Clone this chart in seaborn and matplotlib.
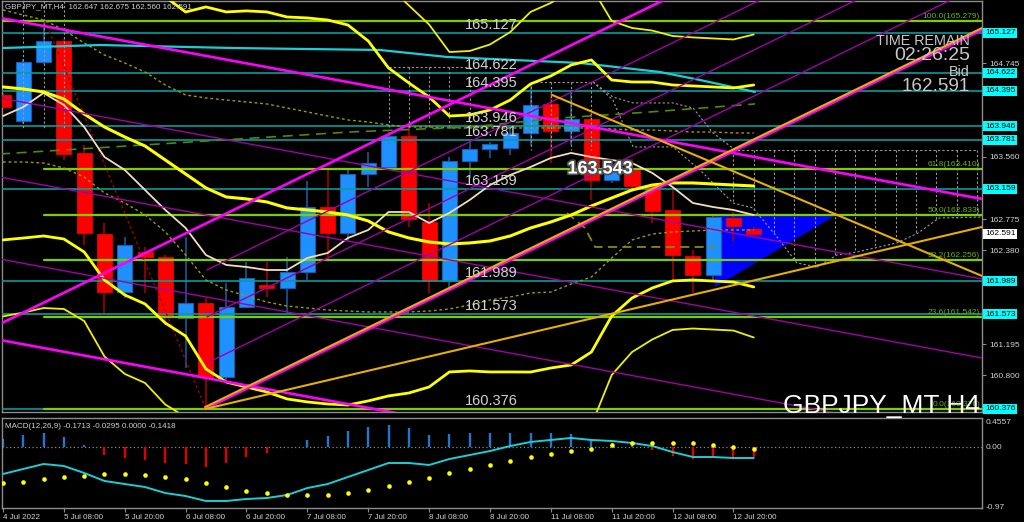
import numpy as np
import matplotlib
matplotlib.use("Agg")
import matplotlib.pyplot as plt
import matplotlib.patheffects as pe
from matplotlib.transforms import blended_transform_factory
import seaborn as sns

# ============================================================
# DATA  (GBPJPY H4, bars 4 Jul 20:00 -> 13 Jul 00:00)
# ============================================================
symbol_header = "GBPJPY_MT,H4  162.647 162.675 162.560 162.591"
macd_header = "MACD(12,26,9) -0.1713 -0.0295 0.0000 -0.1418"

opens = [164.344, 164.015, 164.761, 165.026, 163.610, 162.587, 161.854, 162.360, 162.300, 161.526,
         161.715, 160.780, 161.665, 161.940, 161.905, 162.107, 162.928, 162.600, 163.345, 163.434,
         163.826, 162.739, 161.993, 163.510, 163.660, 163.674, 163.864, 164.230, 163.889, 164.040,
         163.270, 163.396, 163.206, 162.890, 162.310, 162.070, 162.790, 162.647]
highs = [164.370, 164.800, 165.279, 165.050, 163.710, 162.730, 162.550, 162.420, 162.320, 162.550,
         161.780, 161.970, 162.230, 162.230, 162.300, 163.257, 163.420, 163.400, 163.620, 163.870,
         163.930, 162.980, 163.560, 163.750, 163.750, 163.950, 164.470, 164.380, 164.410, 164.110,
         163.450, 163.540, 163.210, 163.140, 162.380, 162.840, 162.870, 162.675]
lows = [164.170, 163.980, 164.740, 163.520, 162.450, 161.590, 161.780, 161.840, 161.440, 160.890,
        160.376, 160.740, 161.660, 161.790, 161.590, 162.006, 162.260, 162.500, 163.180, 163.400,
        162.676, 161.840, 161.920, 163.290, 163.550, 163.580, 163.700, 163.485, 163.710, 163.020,
        163.230, 163.120, 162.730, 162.006, 161.840, 162.000, 162.500, 162.560]
closes = [164.192, 164.761, 165.026, 163.598, 162.600, 161.854, 162.448, 162.300, 161.540, 161.715,
          160.780, 161.665, 162.030, 161.905, 162.107, 162.928, 162.600, 163.345, 163.484, 163.826,
          162.777, 161.993, 163.510, 163.660, 163.724, 163.864, 164.217, 163.889, 164.040, 163.270,
          163.434, 163.194, 162.878, 162.320, 162.070, 162.800, 162.688, 162.591]

# bollinger middle line and distance to the inner bands (outer bands sit 1.5x further)
bb_mid = [164.445, 164.419, 164.382, 164.293, 164.104, 163.939, 163.813, 163.699, 163.522, 163.345,
          163.169, 163.055, 163.030, 162.992, 162.916, 162.891, 162.865, 162.827, 162.752, 162.613,
          162.537, 162.486, 162.461, 162.474, 162.499, 162.562, 162.663, 162.739, 162.827, 162.941,
          163.042, 163.143, 163.206, 163.232, 163.232, 163.219, 163.206, 163.194]
bb_dev = [1.933, 1.883, 1.820, 1.769, 1.744, 1.933, 1.996, 1.996, 2.060, 2.047,
          2.287, 2.338, 2.376, 2.401, 2.413, 2.426, 2.426, 2.401, 2.274, 2.072,
          1.959, 1.832, 1.617, 1.617, 1.655, 1.718, 1.820, 1.845, 1.895, 1.845,
          1.491, 1.365, 1.301, 1.238, 1.226, 1.226, 1.226, 1.276]
outer_factor = 1.5

fast_ma = [164.078, 164.192, 164.369, 164.217, 163.939, 163.560, 163.396, 163.143, 162.891, 162.663,
           162.322, 162.196, 162.170, 162.132, 162.132, 162.284, 162.347, 162.537, 162.638, 162.865,
           162.865, 162.726, 162.853, 163.017, 163.206, 163.333, 163.434, 163.548, 163.611, 163.560,
           163.522, 163.484, 163.358, 163.181, 162.979, 162.928, 162.891, 162.827]
dotted_ma_a = [165.418, 165.354, 165.291, 165.165, 165.001, 164.849, 164.748, 164.634, 164.470, 164.344,
               164.306, 164.280, 164.255, 164.230, 164.179, 164.129, 164.078, 164.028, 164.002, 163.965,
               163.939, 163.939, 163.927, 163.927, 163.927, 163.927, 163.927, 163.927, 163.927, 163.927,
               163.914, 163.901, 163.901, 163.889, 163.876, 163.876, 163.864, 163.864]
dotted_ma_b = [163.497, 163.497, 163.484, 163.421, 163.307, 163.105, 162.979, 162.827, 162.613, 162.322,
               162.006, 161.880, 161.804, 161.728, 161.677, 161.652, 161.627, 161.614, 161.602, 161.602,
               161.602, 161.614, 161.640, 161.690, 161.753, 161.791, 161.842, 161.854, 161.955, 162.044,
               162.284, 162.511, 162.587, 162.613, 162.625, 162.638, 162.638, 162.638]

# slow cyan MA and green dashed line (sampled points: bar, price)
slow_ma_bars = [0, 4.78, 11.34, 18.58, 21.88, 25.14, 28.44, 32.38, 34.35, 37.06]
slow_ma_vals = [164.937, 164.975, 164.937, 164.912, 164.824, 164.786, 164.748, 164.634, 164.533, 164.382]
dash_bars = [-0.15, 8.48, 17.10, 23.02, 27.45, 31.89, 37.06]
dash_vals = [163.598, 163.737, 163.876, 163.939, 164.053, 164.129, 164.230]
kijun_bars = [27.8, 28.68, 29.18, 35.09]
kijun_vals = [162.853, 162.663, 162.423, 162.423]

# horizontal levels, fibonacci, price axis
levels = [165.127, 164.622, 164.395, 163.946, 163.781, 163.159, 161.989, 161.573, 160.376]
fib_pcts = ["100.0", "61.8", "50.0", "38.2", "23.6", "0.0"]
fib_prices = [165.279, 163.410, 162.833, 162.256, 161.542, 160.376]
fib_anchor_bar = 2
axis_prices = [164.745, 163.560, 162.775, 162.380, 161.195, 160.800]
bid_price = 162.591
marked_price = "163.543"

# trend lines: (bar0, price0, bar1, price1)
magenta_thick = [(-0.15, 165.317, 48.25, 163.030), (-0.15, 161.248, 48.25, 158.961),
                 (-0.15, 161.450, 48.25, 167.505), (9.96, 160.376, 48.25, 165.165)]
purple_thin = [(-0.15, 164.306, 48.25, 162.019), (-0.15, 163.307, 48.25, 161.020),
               (-0.15, 162.271, 48.25, 159.984), (10.05, 162.132, 48.25, 166.911),
               (10.05, 161.539, 48.25, 166.318), (10.05, 160.957, 48.25, 165.736)]
gold_lines = [(9.96, 160.400, 48.25, 165.190), (9.96, 160.376, 48.25, 162.676),
              (27.06, 164.344, 48.25, 162.057)]
zigzag = (2.07, 165.279, 10.0, 160.376)

tri_bars = [35.09, 41.10, 35.09]
tri_prices = [162.833, 162.833, 161.917]

# grey dotted projection paths
proj_a_bars = [29.08, 30.06, 31.05, 33.02, 34.01, 34.99, 36.08]
proj_a_vals = [164.508, 164.318, 164.243, 164.243, 164.179, 163.864, 163.649]
proj_b_bars = [29.08, 30.06, 31.05, 33.02, 34.35, 35.98, 36.96, 38.15, 39.13, 40.12,
               41.10, 42.09, 44.06, 45.10, 46.13, 48.25]
proj_b_vals = [164.508, 164.280, 163.687, 163.687, 163.396, 162.979, 162.916, 162.549, 162.221, 162.170,
               162.322, 162.360, 162.474, 162.600, 162.789, 162.802]
# dotted boxes: (first bar, last bar, top price, bottom price)
dot_boxes = [(1, 3, 165.53, 163.927), (19, 23, 164.697, 163.939),
             (26, 29, 164.508, 163.649), (36, 48, 163.649, None)]

# MACD panel
macd_hist = [0.135, 0.199, 0.231, 0.167, 0.038, -0.122, -0.170, -0.202, -0.250, -0.266,
             -0.314, -0.250, -0.154, -0.090, 0.010, 0.119, 0.183, 0.263, 0.327, 0.359,
             0.311, 0.199, 0.215, 0.231, 0.231, 0.231, 0.231, 0.231, 0.215, 0.135,
             0.071, 0.038, -0.042, -0.138, -0.186, -0.170, -0.170, -0.154]
macd_line = [-0.426, -0.346, -0.266, -0.298, -0.410, -0.538, -0.587, -0.635, -0.731, -0.779,
             -0.859, -0.859, -0.827, -0.811, -0.763, -0.651, -0.587, -0.474, -0.362, -0.250,
             -0.250, -0.282, -0.186, -0.122, -0.058, 0.022, 0.087, 0.119, 0.151, 0.119,
             0.103, 0.071, 0.022, -0.074, -0.154, -0.154, -0.170, -0.170]
macd_dots = [-0.571, -0.554, -0.506, -0.474, -0.458, -0.426, -0.426, -0.442, -0.474, -0.506,
             -0.571, -0.635, -0.699, -0.731, -0.763, -0.763, -0.763, -0.731, -0.683, -0.619,
             -0.554, -0.490, -0.410, -0.346, -0.282, -0.218, -0.154, -0.106, -0.058, -0.026,
             0.038, 0.071, 0.071, 0.071, 0.071, 0.038, 0.006, -0.026]
macd_scale = [0.4557, 0.0, -0.97]

xtick_bars = [0, 3, 6, 9, 12, 15, 18, 21, 24, 27, 30, 33, 36]
xtick_labels = ["4 Jul 2022", "5 Jul 08:00", "5 Jul 20:00", "6 Jul 08:00", "6 Jul 20:00",
                "7 Jul 08:00", "7 Jul 20:00", "8 Jul 08:00", "8 Jul 20:00", "11 Jul 08:00",
                "11 Jul 20:00", "12 Jul 08:00", "12 Jul 20:00"]

# ============================================================
# STYLE
# ============================================================
BG = "black"
FRAME = "#8c8c8c"
TXT = "#d2d2d2"
TEAL = "#0b9a9a"
CYAN_BOX = "#00ffff"
FIB = "#7fcc00"
sns.set_style("dark", {"axes.facecolor": BG, "figure.facecolor": BG,
                       "axes.edgecolor": FRAME, "grid.color": BG})
plt.rcParams["font.family"] = ["Liberation Sans", "DejaVu Sans"]

W, H = 1024, 522
fig = plt.figure(figsize=(W / 100, H / 100), dpi=100, facecolor=BG)


def fpos(x, y):
    return x / W, 1 - y / H


ax = fig.add_axes([2 / W, 1 - 412 / H, 980 / W, 411 / H])
ax2 = fig.add_axes([2 / W, 1 - 508 / H, 980 / W, 90 / H], sharex=ax)
XMIN, XMAX = -0.05, 48.25
ax.set_xlim(XMIN, XMAX)
ax.set_ylim(160.338, 165.531)
ax2.set_ylim(-0.971, 0.471)

bars = np.arange(len(opens))
o, h, l, c = (np.array(v) for v in (opens, highs, lows, closes))
up = c > o

# blue triangle object sits behind the candles
ax.fill(tri_bars, tri_prices, color="#0000ff", zorder=1, lw=0)

# candles
ax.vlines(bars[up], l[up], h[up], color="#1d5fa8", lw=1.1, zorder=2)
ax.vlines(bars[~up], l[~up], h[~up], color="#b00000", lw=1.1, zorder=2)
body_lo = np.minimum(o, c)
body_h = np.maximum(np.abs(c - o), 0.03)
ax.bar(bars[up], body_h[up], bottom=body_lo[up], width=0.74, color="#1e90ff",
       edgecolor="#1560b0", lw=0.8, zorder=3)
ax.bar(bars[~up], body_h[~up], bottom=body_lo[~up], width=0.74, color="#ff0000",
       edgecolor="#ff0000", lw=0.5, zorder=3)

# horizontal levels
lvl_tr = blended_transform_factory(ax.transAxes, ax.transData)
for lvl in levels:
    ax.axhline(lvl, color=TEAL, lw=1.2, zorder=4)
    ax.text(0.4724, lvl + 0.012, f"{lvl:.3f}", transform=lvl_tr, color=TXT,
            fontsize=10.5, va="bottom", ha="left", zorder=9)

# fibonacci
for pct, price in zip(fib_pcts, fib_prices):
    start = XMIN if pct == "100.0" else fib_anchor_bar
    ax.plot([start, XMAX], [price, price], color=FIB, lw=1.6, zorder=4)
    ax.text(0.998, price + 0.01, f"{pct}({price:.3f})", transform=lvl_tr, color="#6cb000",
            fontsize=6, va="bottom", ha="right", zorder=9)

# dotted grey boxes and projections
for b0, b1, top, bot in dot_boxes:
    ax.plot([b0, b1], [top, top], color="#9a9a9a", lw=0.8, ls=(0, (2, 2)), zorder=4)
    for b in range(b0, b1 + 1):
        end = bot if bot is not None else np.interp(b, proj_b_bars, proj_b_vals)
        ax.plot([b, b], [top, end], color="#9a9a9a", lw=0.8, ls=(0, (2, 2)), zorder=4)
ax.plot(proj_a_bars, proj_a_vals, color="#9a9a9a", lw=0.8, ls=(0, (2, 2)), zorder=4)
ax.plot(proj_b_bars, proj_b_vals, color="#9a9a9a", lw=0.8, ls=(0, (2, 2)), zorder=4)
ax.plot(zigzag[0::2], zigzag[1::2], color="#a00000", lw=1.0, ls=(0, (2, 2)), zorder=4)

# moving averages / bands
mid = np.array(bb_mid)
dev = np.array(bb_dev)
sns.lineplot(x=bars, y=dotted_ma_a, ax=ax, color="#9c9c00", lw=1.0, ls=(0, (2, 2)), zorder=5)
sns.lineplot(x=bars, y=dotted_ma_b, ax=ax, color="#9c9c00", lw=1.0, ls=(0, (2, 2)), zorder=5)
sns.lineplot(x=dash_bars, y=dash_vals, ax=ax, color="#4f8a00", lw=1.2, ls=(0, (6, 4)), zorder=5)
sns.lineplot(x=kijun_bars, y=kijun_vals, ax=ax, color="#8a8a00", lw=1.3, ls=(0, (5, 3)), zorder=5)
sns.lineplot(x=slow_ma_bars, y=slow_ma_vals, ax=ax, color="#19cfd6", lw=1.6, zorder=5)
sns.lineplot(x=bars, y=fast_ma, ax=ax, color="#f3dcc0", lw=1.3, zorder=6)
sns.lineplot(x=bars, y=mid, ax=ax, color="#ffff00", lw=2.2, zorder=6)
sns.lineplot(x=bars, y=mid + dev, ax=ax, color="#ffff00", lw=2.0, zorder=6)
sns.lineplot(x=bars, y=mid - dev, ax=ax, color="#ffff00", lw=2.0, zorder=6)
sns.lineplot(x=bars, y=mid + outer_factor * dev, ax=ax, color="#f0f000", lw=1.3, zorder=6)
sns.lineplot(x=bars, y=mid - outer_factor * dev, ax=ax, color="#f0f000", lw=1.3, zorder=6)

# trend lines
for b0, p0, b1, p1 in purple_thin:
    ax.plot([b0, b1], [p0, p1], color="#a000a8", lw=1.0, zorder=6)
for b0, p0, b1, p1 in magenta_thick:
    ax.plot([b0, b1], [p0, p1], color="#ff00ff", lw=1.9, zorder=7)
for b0, p0, b1, p1 in gold_lines:
    ax.plot([b0, b1], [p0, p1], color="#e6b000", lw=1.5, zorder=7)

# price axis on the right
ax.yaxis.tick_right()
ax.set_yticks(axis_prices)
ax.set_yticklabels([f"{p:.3f}" for p in axis_prices])
ax.tick_params(axis="y", colors=TXT, labelsize=6, length=3, pad=2, color=FRAME)
ax.tick_params(axis="x", bottom=False, labelbottom=False)
box_tr = blended_transform_factory(ax.transAxes, ax.transData)
for lvl in levels:
    ax.text(1.003, lvl, f"{lvl:.3f}", transform=box_tr, fontsize=6, color="black",
            va="center", ha="left", clip_on=False, zorder=10,
            bbox=dict(boxstyle="square,pad=0.18", fc=CYAN_BOX, ec="none"))
ax.text(1.003, bid_price, f"{bid_price:.3f}", transform=box_tr, fontsize=6, color="black",
        va="center", ha="left", clip_on=False, zorder=10,
        bbox=dict(boxstyle="square,pad=0.18", fc="white", ec="none"))
for side in ("top", "left", "right", "bottom"):
    ax.spines[side].set_color(FRAME)
    ax.spines[side].set_linewidth(1.0)

# ---- MACD panel ----
hist = np.array(macd_hist)
pos = hist >= 0
ax2.vlines(bars[pos], 0, hist[pos], color="#1e78d2", lw=1.7, zorder=2)
ax2.vlines(bars[~pos], 0, hist[~pos], color="#e00000", lw=1.7, zorder=2)
ax2.axhline(0, color="#8a8a8a", lw=0.9, ls=(0, (1, 2)), zorder=1)
sns.lineplot(x=bars, y=macd_line, ax=ax2, color="#19cfd6", lw=1.4, zorder=3)
sns.scatterplot(x=bars, y=macd_dots, ax=ax2, color="#ffff00", s=11, linewidth=0, zorder=4)
ax2.set_yticks([])
ax2.set_ylabel("")
pan_tr = blended_transform_factory(ax2.transAxes, ax2.transData)
ax2.text(1.004, macd_scale[0], f"{macd_scale[0]:.4f}", transform=pan_tr, color=TXT,
         fontsize=6, va="top", ha="left", clip_on=False)
ax2.text(1.004, macd_scale[1], f"{macd_scale[1]:.2f}", transform=pan_tr, color=TXT,
         fontsize=6, va="center", ha="left", clip_on=False)
ax2.text(1.004, macd_scale[2], f"{macd_scale[2]:.2f}", transform=pan_tr, color=TXT,
         fontsize=6, va="center", ha="left", clip_on=False)
ax2.set_xticks(xtick_bars)
ax2.set_xticklabels(xtick_labels, ha="left", fontsize=5.8, color=TXT)
ax2.tick_params(axis="x", length=3, pad=1.5, color=FRAME, bottom=True)
ax2.set_xlim(XMIN, XMAX)
for side in ("top", "left", "right", "bottom"):
    ax2.spines[side].set_color(FRAME)
    ax2.spines[side].set_linewidth(1.0)

# ---- text overlays ----
fig.text(*fpos(5, 7), symbol_header, color=TXT, fontsize=5.8, va="center", ha="left")
fig.text(*fpos(5, 426), macd_header, color=TXT, fontsize=5.8, va="center", ha="left")
fig.text(*fpos(600, 169), marked_price, color="white", fontsize=13, fontweight="bold",
         va="center", ha="center", zorder=12,
         path_effects=[pe.withStroke(linewidth=2.5, foreground="#505050")])
narrow = ["Liberation Sans Narrow", "Liberation Sans", "DejaVu Sans"]
fig.text(*fpos(970, 45), "TIME REMAIN", color="#c8c8c8", fontsize=10.4, family=narrow,
         va="baseline", ha="right")
fig.text(*fpos(970, 60), "02:26:25", color="#c8c8c8", fontsize=14, family=narrow,
         va="baseline", ha="right")
fig.text(*fpos(970, 76), "Bid", color="#c8c8c8", fontsize=10.4, family=narrow,
         va="baseline", ha="right")
fig.text(*fpos(970, 91), f"{bid_price:.3f}", color="#c8c8c8", fontsize=13.6, family=narrow,
         va="baseline", ha="right")
fig.text(*fpos(980, 413), "GBPJPY_MT H4", color="white", fontsize=19, va="baseline",
         ha="right", zorder=12)

fig.savefig("out.png", dpi=100, facecolor=BG)
